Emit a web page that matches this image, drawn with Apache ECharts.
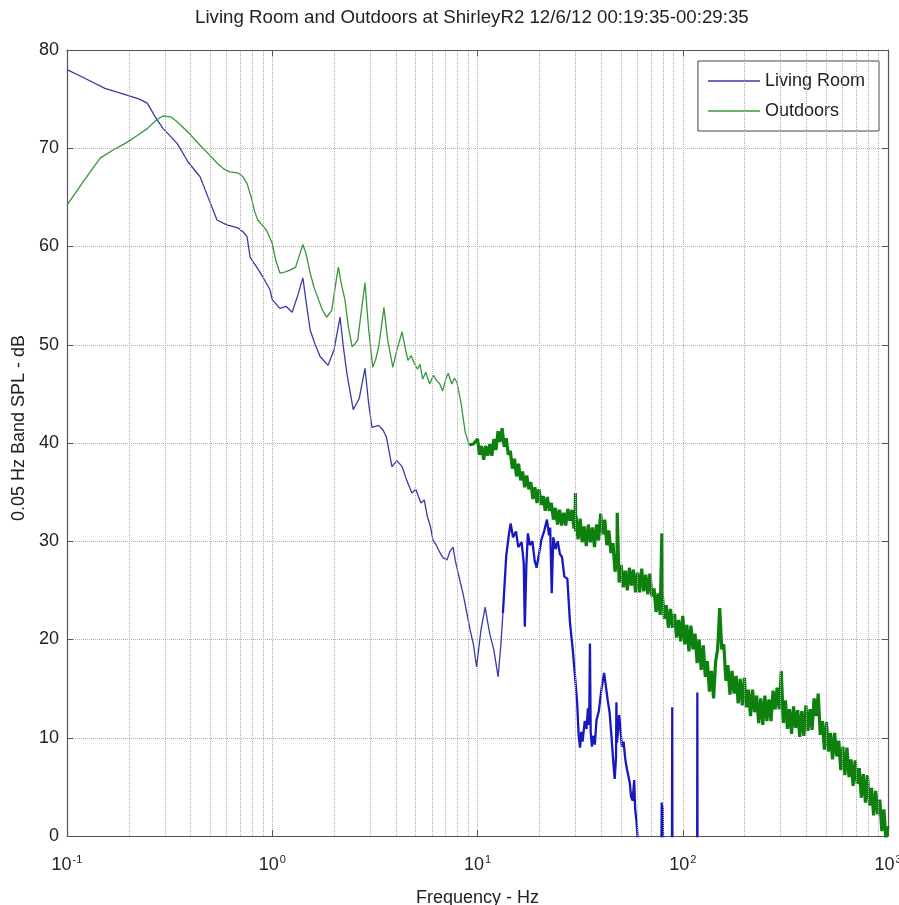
<!DOCTYPE html>
<html>
<head>
<meta charset="utf-8">
<script src="https://cdn.jsdelivr.net/npm/echarts@6/dist/echarts.min.js"></script>
<style>
html,body{margin:0;padding:0;background:#fff;}
#chart{width:899px;height:905px;}
</style>
</head>
<body>
<div id="chart"></div>
<script>
// ---- data ----
const titleText = 'Living Room and Outdoors at ShirleyR2 12/6/12 00:19:35-00:29:35';
const xTickExponents = ['-1', '0', '1', '2', '3'];
const yTicks = [0, 10, 20, 30, 40, 50, 60, 70, 80];
const minorGridFreqs = [0.2,0.3,0.4,0.5,0.6,0.7,0.8,0.9, 2,3,4,5,6,7,8,9, 20,30,40,50,60,70,80,90, 200,300,400,500,600,700,800,900];

// Living Room, smooth low-frequency part
const livingLowFreq = [0.1,0.12,0.153,0.196,0.225,0.246,0.269,0.294,0.344,0.389,0.445,0.487,0.538,0.6,0.68,0.72,0.754,0.78,0.84,0.9,0.975,1.0,1.09,1.17,1.25,1.33,1.41,1.46,1.53,1.62,1.71,1.87,2.0,2.14,2.22,2.31,2.48,2.65,2.83,2.95,3.06,3.3,3.47,3.6,3.83,4.05,4.29,4.5,4.79,5.0,5.3,5.5,5.7,5.9,6.07,6.3,6.5,6.8,7.1,7.35,7.6,7.8,8.0,8.25,8.5,8.85,9.2,9.55,9.9,10.4,10.9,11.2,11.5,12.0,12.3,12.6,13.0,13.3];
const livingLowDb   = [78.0,77.2,76.1,75.4,75.0,74.6,73.2,72.0,70.5,68.6,67.1,65.0,62.7,62.2,61.9,61.5,61.0,58.9,57.9,56.9,55.6,54.6,53.7,53.9,53.3,55.0,56.8,54.5,51.5,50.0,48.8,47.9,49.5,52.8,49.8,47.1,43.4,44.5,47.6,44.0,41.6,41.8,41.3,40.6,37.6,38.2,37.6,36.3,34.9,35.3,33.9,34.2,32.5,31.5,30.1,29.6,29.0,28.3,28.1,29.0,29.4,28.0,27.0,25.8,24.7,22.8,21.0,19.5,17.2,21.0,23.3,21.8,20.5,19.0,17.6,16.2,19.5,22.7];

// Living Room, noisy high-frequency part (values below 0 are clipped by the axis)
const livingHighFreq = [13.3,13.8,14.2,14.5,14.9,15.4,15.8,16.4,16.8,17.0,17.3,17.6,18.0,18.5,19.0,19.4,19.9,20.5,21.1,21.8,22.3,22.6,23.0,23.4,24.0,24.6,25.2,25.8,26.5,27.4,28.2,29.1,30.0,30.6,31.1,31.6,32.0,32.5,33.3,34.0,34.5,35.0,35.3,35.6,36.1,36.6,37.3,38.0,39.0,40.2,41.4,42.3,43.1,44.0,45.0,46.0,46.6,47.3,47.5,47.8,48.5,49.0,49.8,50.5,51.5,52.5,53.5,55.2,56.0,57.0,58.0,58.6,59.5,60.2,62.0,70.0,78.5,79.0,79.4,79.8,80.5,88.5,88.9,89.3,117.5,117.8,118.1,300,1000];
const livingHighDb   = [22.7,28.5,30.6,31.8,30.4,31.0,29.4,29.9,27.8,21.3,27.5,30.8,29.6,30.0,28.0,27.3,28.6,30.2,31.0,32.2,30.6,31.4,24.7,30.4,29.2,30.0,28.7,28.4,26.4,26.2,21.8,19.0,15.8,13.5,10.3,9.0,10.6,9.6,11.7,10.9,13.0,11.3,19.6,10.6,9.1,10.2,9.3,11.8,12.7,15.0,16.6,15.1,13.8,12.6,10.0,7.2,5.8,8.0,13.6,9.5,11.0,12.3,10.7,9.1,9.6,7.8,6.8,5.4,4.0,3.6,5.7,2.8,1.5,0.0,-4,-8,-5,3.4,1.0,3.0,-4,-5,13.1,-5,-8,14.6,-8,-20,-30];

// Outdoors, smooth low-frequency part
const outdoorLowFreq = [0.1,0.12,0.145,0.17,0.196,0.22,0.246,0.27,0.294,0.32,0.344,0.39,0.445,0.49,0.538,0.58,0.62,0.68,0.72,0.754,0.79,0.82,0.85,0.9,0.94,1.0,1.04,1.09,1.15,1.22,1.3,1.36,1.41,1.46,1.53,1.6,1.66,1.75,1.84,1.95,2.03,2.1,2.17,2.26,2.35,2.45,2.53,2.61,2.72,2.83,2.95,3.09,3.2,3.3,3.4,3.5,3.65,3.87,4.05,4.29,4.45,4.58,4.75,4.9,5.1,5.25,5.4,5.6,5.85,6.1,6.3,6.55,6.77,7.0,7.2,7.5,7.7,7.94,8.32,8.71,9.12];
const outdoorLowDb   = [64.2,66.6,69.0,69.9,70.6,71.3,72.0,72.8,73.3,73.2,72.7,71.6,70.3,69.4,68.5,67.9,67.6,67.5,67.1,66.4,65.0,63.6,62.7,62.1,61.6,60.3,58.6,57.3,57.4,57.6,57.9,59.2,60.2,59.3,57.3,55.8,54.9,53.6,52.8,53.5,56.0,57.9,56.2,54.6,51.8,49.8,50.1,50.5,53.5,56.3,51.5,47.7,48.6,49.8,51.8,53.8,50.5,47.7,49.5,51.3,49.6,48.4,48.9,48.2,47.5,48.0,46.5,47.2,46.0,46.9,46.4,46.0,45.3,46.5,47.1,46.0,46.6,46.2,44.0,41.1,39.8];

// Outdoors, noisy high-frequency band (dense readings across the band)
const outdoorHighFreq = [9.12,9.55,
  10.0,10.23,10.47,10.72,10.96,11.22,11.48,11.75,12.02,12.30,12.59,12.88,13.18,13.49,13.80,14.13,14.45,14.79,15.14,15.49,
  15.85,16.22,16.60,16.98,17.38,17.78,18.20,18.62,19.05,19.50,19.95,20.42,20.89,21.38,21.88,22.39,22.91,23.44,23.99,24.55,
  25.12,25.70,26.30,26.92,27.54,28.18,28.84,29.51,29.9,30.0,30.1,
  30.20,30.90,31.62,32.36,33.11,33.88,34.67,35.48,36.31,37.15,38.02,38.90,39.81,40.74,41.69,42.66,43.65,44.67,45.71,46.77,47.86,47.95,
  48.98,50.12,51.29,52.48,53.70,54.95,56.23,57.54,58.88,60.26,61.66,63.10,64.57,66.07,67.61,69.18,70.79,72.44,74.13,75.86,77.62,79.1,
  79.43,81.28,83.18,85.11,87.10,89.13,91.20,93.33,95.50,97.72,
  100,102.3,104.7,107.2,109.6,112.2,114.8,117.5,120.2,123.0,
  125.9,128.8,131.8,134.9,138.0,141.3,144.5,147.9,151.4,154.9,
  158.5,162.2,166.0,169.8,173.8,177.8,182.0,186.2,190.5,195.0,
  199.5,204.2,208.9,213.8,218.8,223.9,229.1,234.4,239.9,245.5,
  251.2,257.0,263.0,269.2,275.4,281.8,288.4,295.1,302.0,309.0,
  316.2,323.6,331.1,338.8,346.7,354.8,363.1,371.5,380.2,389.0,
  398.1,407.4,416.9,426.6,436.5,446.7,457.1,467.7,478.6,489.8,
  501.2,512.9,524.8,537.0,549.5,562.3,575.4,588.8,602.6,616.6,
  631.0,645.7,660.7,676.1,691.8,707.9,724.4,741.3,758.6,776.2,
  794.3,812.8,831.8,851.1,871.0,891.3,912.0,933.3,955.0,977.2,
  1000];
const outdoorHighDb = [39.8,39.9,
  40.4,38.8,39.7,38.3,39.7,38.7,39.9,38.7,40.4,39.3,41.2,40.1,41.5,39.6,40.5,38.8,39.2,37.4,38.4,36.6,
  37.9,36.2,37.1,35.5,36.7,35.3,36.0,34.3,35.5,33.9,35.3,33.7,34.6,33.1,34.5,33.1,33.9,32.2,33.4,31.7,
  33.2,31.6,32.9,31.6,33.3,32.1,33.2,31.3,32.4,34.9,31.0,
  32.6,30.2,32.3,29.9,31.5,29.5,31.7,29.9,31.4,29.4,31.7,30.1,32.8,30.7,32.2,29.6,31.1,28.8,29.8,26.9,28.3,32.9,
  25.8,27.6,25.3,27.0,25.0,27.3,25.5,27.1,24.8,26.8,24.8,27.2,24.9,26.6,24.6,26.7,24.4,25.2,22.8,24.7,22.5,30.8,
  24.7,22.1,23.5,21.2,23.1,21.2,22.6,20.2,22.0,19.8,
  22.4,19.5,21.5,18.8,21.4,19.0,20.6,17.6,20.0,16.9,
  19.4,16.2,17.8,14.7,16.8,14.0,17.7,19.0,23.2,19.0,
  19.5,15.8,17.4,14.4,16.8,14.5,16.3,13.5,16.0,13.3,
  16.1,13.1,14.9,12.2,14.9,12.6,14.3,11.5,14.0,11.3,
  14.3,11.7,13.9,11.7,14.8,12.9,15.1,12.9,16.8,11.5,
  13.8,10.9,12.9,10.4,13.2,11.0,12.8,10.1,12.7,10.2,
  13.3,10.7,12.9,10.8,14.0,12.2,14.5,10.3,11.7,8.8,
  11.6,8.6,10.5,7.8,10.5,8.1,9.7,6.7,9.1,6.2,
  9.0,6.0,7.8,5.1,7.7,5.3,6.9,3.9,6.3,3.4,
  6.2,3.1,4.9,2.1,4.6,2.2,3.7,0.5,2.7,-0.3,
  1.0];

// ---- chart ----
function pairs(fs, vs) { return fs.map((f, i) => [f, vs[i]]); }

const FONT = '"Liberation Sans", Arial, Helvetica, sans-serif';
const BLUE_THIN = '#3a3aa6';
const BLUE = '#1818c0';
const GREEN_THIN = '#3a963a';
const GREEN = '#0e800e';
const AXIS = '#555';
const GRID = '#b0b0b0';

const chart = echarts.init(document.getElementById('chart'), null, { renderer: 'canvas' });

chart.setOption({
  animation: false,
  backgroundColor: '#fff',
  title: {
    text: titleText,
    left: 190,
    top: 3,
    textStyle: { fontFamily: FONT, fontSize: 18.7, fontWeight: 'normal', color: '#222' }
  },
  legend: {
    data: ['Living Room', 'Outdoors'],
    orient: 'vertical',
    right: 20,
    top: 61,
    padding: [11, 14, 11, 10],
    itemGap: 12,
    itemWidth: 52,
    itemHeight: 1.6,
    icon: 'rect',
    backgroundColor: '#fff',
    borderColor: '#444',
    borderWidth: 1,
    textStyle: { fontFamily: FONT, fontSize: 18, color: '#222' }
  },
  grid: { left: 67, right: 11, top: 50, bottom: 69, containLabel: false, outerBoundsMode: 'none' },
  xAxis: [
    {
      type: 'log',
      logBase: 10,
      min: 0.1,
      max: 1000,
      name: 'Frequency - Hz',
      nameLocation: 'middle',
      nameGap: 53,
      nameTextStyle: { fontFamily: FONT, fontSize: 18, color: '#222' },
      axisLine: { show: true, onZero: false, lineStyle: { color: AXIS, width: 1.2 } },
      axisTick: { show: true, inside: true, length: 6, lineStyle: { color: AXIS } },
      axisLabel: {
        margin: 18,
        formatter: function (v) {
          const e = Math.round(Math.log10(v));
          return '{b|10}{s|' + xTickExponents[e + 1] + '}';
        },
        rich: {
          b: { fontFamily: FONT, fontSize: 18, color: '#222' },
          s: { fontFamily: FONT, fontSize: 11, color: '#222', padding: [0, 0, 12, 1] }
        }
      },
      splitLine: { show: true, lineStyle: { color: GRID, type: 'dotted', width: 1 } }
    },
    {
      type: 'log',
      logBase: 10,
      min: 0.1,
      max: 1000,
      position: 'top',
      axisLine: { show: true, onZero: false, lineStyle: { color: AXIS, width: 1.2 } },
      axisTick: { show: true, inside: true, length: 6, lineStyle: { color: AXIS } },
      axisLabel: { show: false },
      splitLine: { show: false }
    }
  ],
  yAxis: [
    {
      type: 'value',
      min: yTicks[0],
      max: yTicks[yTicks.length - 1],
      interval: 10,
      name: '0.05 Hz Band SPL - dB',
      nameLocation: 'middle',
      nameGap: 36,
      nameTextStyle: { fontFamily: FONT, fontSize: 18, color: '#222', padding: [0, 0, 0, 30] },
      axisLine: { show: true, lineStyle: { color: AXIS, width: 1.2 } },
      axisTick: { show: true, inside: true, length: 6, lineStyle: { color: AXIS } },
      axisLabel: { margin: 8, fontFamily: FONT, fontSize: 18, color: '#222' },
      splitLine: { show: true, lineStyle: { color: GRID, type: 'dotted', width: 1 } }
    },
    {
      type: 'value',
      min: yTicks[0],
      max: yTicks[yTicks.length - 1],
      interval: 10,
      position: 'right',
      axisLine: { show: true, lineStyle: { color: AXIS, width: 1.2 } },
      axisTick: { show: true, inside: true, length: 6, lineStyle: { color: AXIS } },
      axisLabel: { show: false },
      splitLine: { show: false }
    }
  ],
  series: [
    {
      name: 'Living Room',
      type: 'line',
      xAxisIndex: 0, yAxisIndex: 0,
      data: pairs(livingLowFreq, livingLowDb),
      showSymbol: false, symbol: 'none',
      lineStyle: { color: BLUE_THIN, width: 1.3 },
      itemStyle: { color: BLUE_THIN },
      z: 3,
      markLine: {
        silent: true,
        symbol: ['none', 'none'],
        animation: false,
        label: { show: false },
        lineStyle: { color: GRID, type: 'dotted', width: 1 },
        emphasis: { disabled: true },
        data: minorGridFreqs.map(f => ({ xAxis: f }))
      }
    },
    {
      name: 'Outdoors',
      type: 'line',
      xAxisIndex: 0, yAxisIndex: 0,
      data: pairs(outdoorLowFreq, outdoorLowDb),
      showSymbol: false, symbol: 'none',
      lineStyle: { color: GREEN_THIN, width: 1.3 },
      itemStyle: { color: GREEN_THIN },
      z: 3
    },
    {
      name: 'Living Room',
      type: 'line',
      xAxisIndex: 0, yAxisIndex: 0,
      data: pairs(livingHighFreq, livingHighDb),
      showSymbol: false, symbol: 'none',
      lineStyle: { color: BLUE, width: 2.3 },
      itemStyle: { color: BLUE },
      z: 3
    },
    {
      name: 'Outdoors',
      type: 'line',
      xAxisIndex: 0, yAxisIndex: 0,
      data: pairs(outdoorHighFreq, outdoorHighDb),
      showSymbol: false, symbol: 'none',
      lineStyle: { color: GREEN, width: 3.2 },
      itemStyle: { color: GREEN },
      z: 4
    }
  ]
});
</script>
</body>
</html>
